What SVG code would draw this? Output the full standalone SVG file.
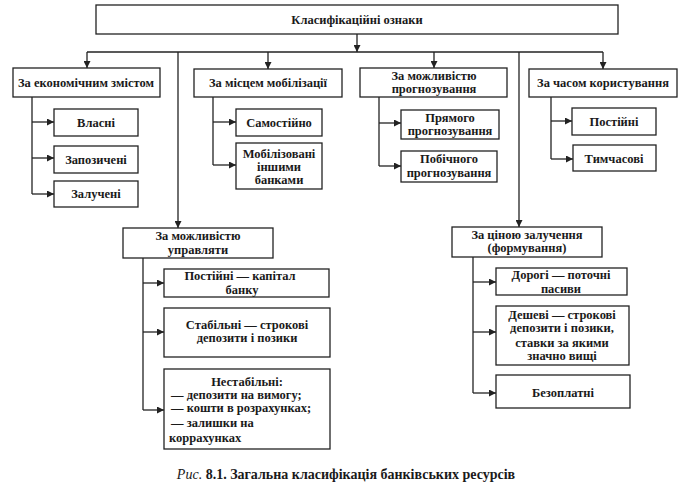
<svg xmlns="http://www.w3.org/2000/svg" width="697" height="499" viewBox="0 0 697 499">
<defs>
<style>
.b{fill:#fff;stroke:#222;stroke-width:1.3}
.c{fill:none;stroke:#222;stroke-width:1.3}
text{font-family:"Liberation Serif","DejaVu Serif",serif;font-weight:bold;font-size:12.5px;fill:#1a1a1a;text-anchor:middle}
.l{text-anchor:start}
.cap{font-size:14px}
</style>
<marker id="a" viewBox="0 0 10 10" refX="10" refY="5" markerWidth="8" markerHeight="7" markerUnits="userSpaceOnUse" orient="auto">
<path d="M0,0 L10,5 L0,10 z" fill="#222"/>
</marker>
</defs>
<rect width="697" height="499" fill="#fff"/>
<g id="connectors">
<path class="c" d="M357,34 V52" marker-end="url(#a)"/>
<path class="c" d="M87,52 H603"/>
<path class="c" d="M87,52 V68" marker-end="url(#a)"/>
<path class="c" d="M268,52 V69" marker-end="url(#a)"/>
<path class="c" d="M434,52 V68" marker-end="url(#a)"/>
<path class="c" d="M603,52 V69" marker-end="url(#a)"/>
<path class="c" d="M178,52 V228" marker-end="url(#a)"/>
<path class="c" d="M519,52 V227" marker-end="url(#a)"/>
<path class="c" d="M32,97 V194"/>
<path class="c" d="M32,122 H54" marker-end="url(#a)"/>
<path class="c" d="M32,158 H54" marker-end="url(#a)"/>
<path class="c" d="M32,194 H54" marker-end="url(#a)"/>
<path class="c" d="M213,97 V165"/>
<path class="c" d="M213,122 H236" marker-end="url(#a)"/>
<path class="c" d="M213,165 H236" marker-end="url(#a)"/>
<path class="c" d="M379,97 V166"/>
<path class="c" d="M379,123 H401" marker-end="url(#a)"/>
<path class="c" d="M379,166 H401" marker-end="url(#a)"/>
<path class="c" d="M551,97 V159"/>
<path class="c" d="M551,121 H572" marker-end="url(#a)"/>
<path class="c" d="M551,159 H573" marker-end="url(#a)"/>
<path class="c" d="M143,258 V410"/>
<path class="c" d="M143,283 H164" marker-end="url(#a)"/>
<path class="c" d="M143,332 H164" marker-end="url(#a)"/>
<path class="c" d="M143,410 H164" marker-end="url(#a)"/>
<path class="c" d="M473,257 V393"/>
<path class="c" d="M473,282 H496" marker-end="url(#a)"/>
<path class="c" d="M473,332 H496" marker-end="url(#a)"/>
<path class="c" d="M473,393 H496" marker-end="url(#a)"/>
</g>
<g id="root"><rect class="b" x="96" y="5" width="522" height="29"/><text x="357" y="24">Класифікаційні ознаки</text></g>
<g id="n1"><rect class="b" x="13" y="68" width="147" height="29"/><text x="86" y="87">За економічним змістом</text></g>
<g id="n1a"><rect class="b" x="54" y="109" width="84" height="27"/><text x="96" y="127">Власні</text></g>
<g id="n1b"><rect class="b" x="54" y="146" width="84" height="27"/><text x="96" y="164">Запозичені</text></g>
<g id="n1c"><rect class="b" x="54" y="181" width="84" height="26"/><text x="96" y="198">Залучені</text></g>
<g id="n2"><rect class="b" x="194" y="69" width="148" height="28"/><text x="268" y="87">За місцем мобілізації</text></g>
<g id="n2a"><rect class="b" x="236" y="109" width="86" height="27"/><text x="279" y="127">Самостійно</text></g>
<g id="n2b"><rect class="b" x="236" y="143" width="86" height="46"/><text x="279" y="158">Мобілізовані</text><text x="279" y="171">іншими</text><text x="279" y="184">банками</text></g>
<g id="n3"><rect class="b" x="360" y="68" width="147" height="29"/><text x="434" y="80">За можливістю</text><text x="434" y="93">прогнозування</text></g>
<g id="n3a"><rect class="b" x="401" y="110" width="98" height="29"/><text x="450" y="122">Прямого</text><text x="450" y="135">прогнозування</text></g>
<g id="n3b"><rect class="b" x="401" y="151" width="96" height="31"/><text x="449" y="163">Побічного</text><text x="449" y="177">прогнозування</text></g>
<g id="n4"><rect class="b" x="529" y="69" width="148" height="28"/><text x="603" y="87">За часом користування</text></g>
<g id="n4a"><rect class="b" x="572" y="108" width="84" height="27"/><text x="614" y="126">Постійні</text></g>
<g id="n4b"><rect class="b" x="573" y="145" width="83" height="26"/><text x="614" y="163">Тимчасові</text></g>
<g id="n5"><rect class="b" x="123" y="228" width="150" height="30"/><text x="198" y="240">За можливістю</text><text x="198" y="254">управляти</text></g>
<g id="n5a"><rect class="b" x="164" y="269" width="165" height="28"/><text x="240" y="280">Постійні — капітал</text><text x="242" y="294">банку</text></g>
<g id="n5b"><rect class="b" x="164" y="308" width="166" height="49"/><text x="247" y="329">Стабільні — строкові</text><text x="247" y="342">депозити і позики</text></g>
<g id="n5c"><rect class="b" x="164" y="369" width="166" height="80"/><text x="247" y="386">Нестабільні:</text><text class="l" x="171" y="399">— депозити на вимогу;</text><text class="l" x="171" y="412">— кошти в розрахунках;</text><text class="l" x="171" y="427">— залишки на</text><text class="l" x="169" y="442">коррахунках</text></g>
<g id="n6"><rect class="b" x="452" y="227" width="150" height="30"/><text x="527" y="239">За ціною залучення</text><text x="527" y="252">(формування)</text></g>
<g id="n6a"><rect class="b" x="496" y="268" width="131" height="27"/><text x="561" y="279">Дорогі — поточні</text><text x="561" y="293">пасиви</text></g>
<g id="n6b"><rect class="b" x="496" y="306" width="133" height="59"/><text x="562" y="319">Дешеві — строкові</text><text x="562" y="332">депозити і позики,</text><text x="562" y="347">ставки за якими</text><text x="562" y="360">значно вищі</text></g>
<g id="n6c"><rect class="b" x="496" y="375" width="134" height="33"/><text x="563" y="397">Безоплатні</text></g>
<text class="cap" x="346" y="479"><tspan font-style="italic" font-weight="normal">Рис.</tspan> 8.1. Загальна класифікація банківських ресурсів</text>
</svg>
